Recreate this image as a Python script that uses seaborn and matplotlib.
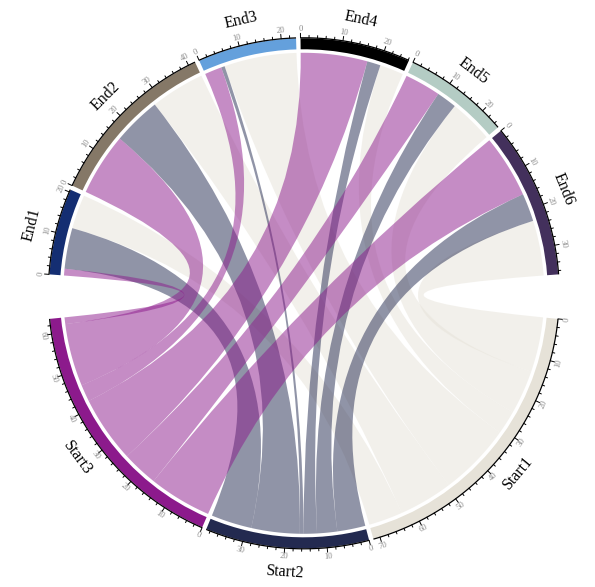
import numpy as np
import matplotlib
matplotlib.use("Agg")
import matplotlib.pyplot as plt
import seaborn as sns
from matplotlib.path import Path
from matplotlib.patches import PathPatch, Wedge

# ---------------- data ----------------
start_names = ["Start1", "Start2", "Start3"]
end_names = ["End1", "End2", "End3", "End4", "End5", "End6"]
# flows from each start to End1..End6
flow_start1 = [8.6, 13.7, 18.3, 6.0, 11.1, 13.9]
flow_start2 = [10.3, 12.2, 0.9, 3.4, 5.1, 7.1]
flow_start3 = [1.7, 15.8, 4.3, 16.8, 9.1, 15.9]
start_colors = ["#e6e2d8", "#232a50", "#8c1a8c"]
end_colors = ["#142e72", "#857867", "#64a0dc", "#000000", "#b4ccc4", "#43305c"]

# ---------------- style ----------------
sns.set_theme(style="white")
plt.rcParams['font.family'] = ['Liberation Serif', 'DejaVu Serif']

M = np.array([flow_start1, flow_start2, flow_start3])
end_tot = M.sum(axis=0)
start_tot = M.sum(axis=1)
S = M.sum()

gap_small, gap_big = 1.0, 10.0
k = (360 - 7 * gap_small - 2 * gap_big) / (2 * S)
theta0 = 90 + (k * S + 5 * gap_small) / 2

# sector start angles (clockwise)
names = end_names + start_names
totals = list(end_tot) + list(start_tot)
colors = end_colors + start_colors
sec_start = []
a = theta0
for idx, t in enumerate(totals):
    sec_start.append(a)
    a -= t * k
    if idx == len(end_names) - 1:
        a -= gap_big
    elif idx < len(totals) - 1:
        a -= gap_small

R_axis = 255.5
R_bar_out = 255.0
bar_w = 11.0
R_chord = 240.5

fig = plt.figure(figsize=(5.95, 5.87), dpi=100)
ax = fig.add_axes([0, 0, 1, 1])
ax.set_xlim(-303.8, 595 - 303.8)
ax.set_ylim(-(587 - 293.3), 293.3)
ax.set_aspect('equal')
ax.axis('off')


def pt(theta, r):
    t = np.deg2rad(theta)
    return np.array([r * np.cos(t), r * np.sin(t)])


def upright_rot(theta):
    th = theta % 360
    if 0 < th < 180:
        return th - 90
    return th + 90


# link offsets
end_off = {}
for j in range(len(end_names)):
    off = 0.0
    for i in [2, 1, 0]:
        end_off[(i, j)] = off
        off += M[i, j]
start_off = {}
for i in range(len(start_names)):
    off = 0.0
    for j in [5, 4, 3, 2, 1, 0]:
        start_off[(i, j)] = off
        off += M[i, j]

# chords
for i in [0, 1, 2]:
    si = len(end_names) + i
    for j in range(len(end_names)):
        w = M[i, j]
        s1 = sec_start[si] - start_off[(i, j)] * k
        s2 = s1 - w * k
        t1 = sec_start[j] - end_off[(i, j)] * k
        t2 = t1 - w * k
        verts, codes = [], []
        arc1 = np.linspace(s1, s2, 40)
        for n, th in enumerate(arc1):
            verts.append(pt(th, R_chord))
            codes.append(Path.MOVETO if n == 0 else Path.LINETO)
        verts += [np.array([0.0, 0.0]), pt(t1, R_chord)]
        codes += [Path.CURVE3, Path.CURVE3]
        arc2 = np.linspace(t1, t2, 40)
        for th in arc2[1:]:
            verts.append(pt(th, R_chord))
            codes.append(Path.LINETO)
        verts += [np.array([0.0, 0.0]), pt(s1, R_chord)]
        codes += [Path.CURVE3, Path.CURVE3]
        verts.append(pt(s1, R_chord))
        codes.append(Path.CLOSEPOLY)
        patch = PathPatch(Path(np.array(verts), codes),
                          facecolor=matplotlib.colors.to_rgba(start_colors[i], 0.5),
                          edgecolor='none', lw=0)
        ax.add_patch(patch)

# sectors, axis, ticks, labels
for idx, (nm, tot, col) in enumerate(zip(names, totals, colors)):
    a1 = sec_start[idx]
    a2 = a1 - tot * k
    ax.add_patch(Wedge((0, 0), R_bar_out, a2, a1, width=bar_w,
                       facecolor=col, edgecolor='none'))
    arc = np.linspace(a1, a2, 100)
    ax.plot(R_axis * np.cos(np.deg2rad(arc)), R_axis * np.sin(np.deg2rad(arc)),
            color='black', lw=0.9, solid_capstyle='butt')
    v = 0
    while v <= tot + 1e-9:
        th = a1 - v * k
        major = (v % 10 == 0)
        ln = 4.5 if major else 2.5
        p0 = pt(th, R_axis)
        p1 = pt(th, R_axis + ln)
        ax.plot([p0[0], p1[0]], [p0[1], p1[1]], color='black', lw=0.7)
        if major:
            p = pt(th, 264)
            ax.text(p[0], p[1], str(int(v)), fontsize=6.2, color='#8a8a8a',
                    ha='center', va='center', rotation=upright_rot(th),
                    rotation_mode='anchor')
        v += 2
    mid = (a1 + a2) / 2
    p = pt(mid, 280)
    ax.text(p[0], p[1], nm, fontsize=11.5, color='black', ha='center', va='center',
            rotation=upright_rot(mid), rotation_mode='anchor')

fig.savefig("out.png", dpi=100)
